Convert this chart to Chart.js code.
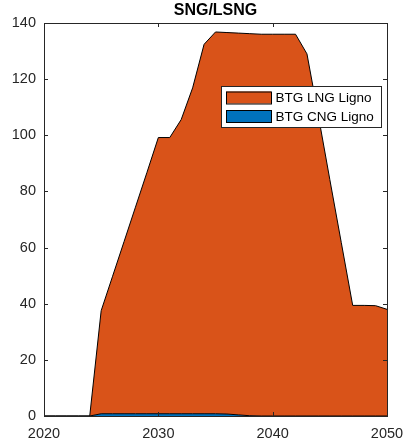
<!DOCTYPE html>
<html>
<head>
<meta charset="utf-8">
<script src="https://cdn.jsdelivr.net/npm/chart.js@4/dist/chart.umd.min.js"></script>
<style>
html,body{margin:0;padding:0;background:#fff;}
#wrap{width:407px;height:439px;position:relative;}
</style>
</head>
<body>
<div id="wrap"><canvas id="c" width="407" height="439"></canvas></div>
<script>
const titleText = "SNG/LSNG";
const years = [2020,2021,2022,2023,2024,2025,2026,2027,2028,2029,2030,2031,2032,2033,2034,2035,2036,2037,2038,2039,2040,2041,2042,2043,2044,2045,2046,2047,2048,2049,2050];
const cngName = "BTG CNG Ligno";
const cngValues = [0,0,0,0,0,0.8,0.8,0.8,0.8,0.8,0.8,0.8,0.8,0.8,0.8,0.8,0.7,0.4,0.1,0,0,0,0,0,0,0,0,0,0,0,0];
const lngName = "BTG LNG Ligno";
const lngValues = [0,0,0,0,0,36.7,49.0,61.3,73.6,85.9,98.4,98.4,104.8,116.1,131.6,136.0,135.9,136.0,136.1,136.0,136.0,136.0,136.0,129.0,106.9,84.2,61.8,39.4,39.4,39.3,38.0];
const xTicks = [2020,2030,2040,2050];
const yTicks = [0,20,40,60,80,100,120,140];

const ORANGE = "#D95319", BLUE = "#0072BD", AX = "#262626";
const FONT = "'Liberation Sans', Arial, sans-serif";

const boxPlugin = {
  id: 'matlabBox',
  afterDraw(chart) {
    const ctx = chart.ctx, a = chart.chartArea;
    const xs = chart.scales.x, ys = chart.scales.y;
    ctx.save();
    ctx.strokeStyle = AX; ctx.lineWidth = 1;
    ctx.strokeRect(Math.round(a.left)+0.5, Math.round(a.top)+0.5, Math.round(a.right-a.left), Math.round(a.bottom-a.top));
    const tl = 4;
    ctx.beginPath();
    xTicks.forEach(v => {
      const px = Math.round(xs.getPixelForValue(v)) + 0.5;
      ctx.moveTo(px, a.bottom); ctx.lineTo(px, a.bottom - tl);
      ctx.moveTo(px, a.top); ctx.lineTo(px, a.top + tl);
    });
    yTicks.forEach(v => {
      const py = Math.round(ys.getPixelForValue(v)) + 0.5;
      ctx.moveTo(a.left, py); ctx.lineTo(a.left + tl, py);
      ctx.moveTo(a.right, py); ctx.lineTo(a.right - tl, py);
    });
    ctx.stroke();
    // title
    ctx.fillStyle = "#000";
    ctx.font = "bold 16px " + FONT;
    ctx.textAlign = "center"; ctx.textBaseline = "alphabetic";
    ctx.fillText(titleText, (a.left + a.right) / 2, 15);
    // legend
    const lx = 221, ly = 86, lw = 160, lh = 41;
    ctx.fillStyle = "#fff";
    ctx.fillRect(lx, ly, lw, lh);
    ctx.strokeStyle = AX; ctx.lineWidth = 1;
    ctx.strokeRect(lx + 0.5, ly + 0.5, lw, lh);
    const items = [[lngName, ORANGE], [cngName, BLUE]];
    items.forEach((it, i) => {
      const cy = ly + 11.5 + i * 18.5;
      ctx.fillStyle = it[1];
      ctx.fillRect(226, cy - 6, 45, 12);
      ctx.strokeStyle = "#000";
      ctx.strokeRect(226.5, cy - 5.5, 45, 12);
      ctx.fillStyle = "#000";
      ctx.font = "13.5px " + FONT;
      ctx.textAlign = "left"; ctx.textBaseline = "middle";
      ctx.fillText(it[0], 275.5, cy + 1);
    });
    ctx.restore();
  }
};

new Chart(document.getElementById('c'), {
  type: 'line',
  data: {
    datasets: [
      { label: cngName, data: years.map((y, i) => ({x: y, y: cngValues[i]})),
        backgroundColor: BLUE, borderColor: "#000", borderWidth: 1, fill: 'origin',
        pointRadius: 0, tension: 0 },
      { label: lngName, data: years.map((y, i) => ({x: y, y: lngValues[i]})),
        backgroundColor: ORANGE, borderColor: "#000", borderWidth: 1, fill: '-1',
        pointRadius: 0, tension: 0 }
    ]
  },
  options: {
    responsive: false, animation: false, devicePixelRatio: 1,
    layout: { padding: { left: 0, right: 20, top: 23, bottom: 0 } },
    plugins: { legend: { display: false }, tooltip: { enabled: false }, title: { display: false } },
    scales: {
      x: { type: 'linear', min: 2020, max: 2050,
        grid: { display: false, drawTicks: false }, border: { display: false },
        afterBuildTicks: s => { s.ticks = xTicks.map(v => ({value: v})); },
        afterFit: s => { s.height = 23; s.paddingLeft = 0; s.paddingRight = 0; },
        ticks: { padding: 9, color: AX, font: { family: FONT, size: 14.5 }, maxRotation: 0, callback: v => String(v) } },
      y: { type: 'linear', min: 0, max: 140, stacked: true,
        grid: { display: false, drawTicks: false }, border: { display: false },
        afterBuildTicks: s => { s.ticks = yTicks.map(v => ({value: v})); },
        afterFit: s => { s.width = 44; s.paddingTop = 0; s.paddingBottom = 0; },
        ticks: { padding: 8, color: AX, font: { family: FONT, size: 14.5 } } }
    }
  },
  plugins: [boxPlugin]
});
</script>
</body>
</html>
